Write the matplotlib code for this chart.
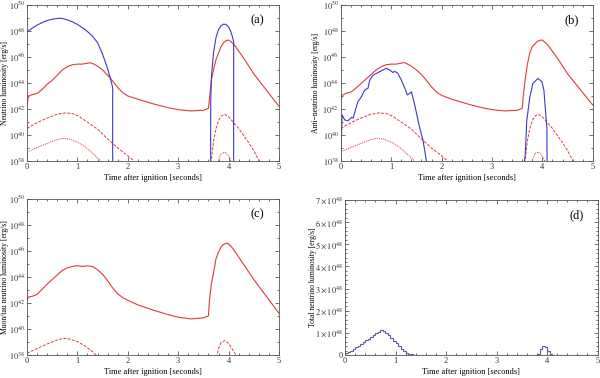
import numpy as np
import matplotlib
matplotlib.use("Agg")
import matplotlib.pyplot as plt
from matplotlib.ticker import FixedLocator, MultipleLocator, NullFormatter

plt.rcParams["font.family"] = ["Liberation Serif", "DejaVu Serif"]
plt.rcParams["mathtext.fontset"] = "stix"

RED = "#e03a3a"
BLUE = "#3a3acc"
HIST = "#5c5c99"

# ── panel (a): neutrino luminosity, log10 erg/s ─────────────
a_blue1_t = [0, 0.1, 0.2, 0.3, 0.4, 0.5, 0.6, 0.65, 0.7, 0.8, 0.9, 1.0, 1.1, 1.2,
             1.3, 1.4, 1.5, 1.6, 1.65, 1.69, 1.70, 1.70]
a_blue1_l = [47.94, 48.2, 48.45, 48.64, 48.8, 48.9, 48.96, 48.97, 48.96, 48.85, 48.7,
             48.5, 48.25, 47.95, 47.6, 47.1, 46.2, 45.1, 44.4, 43.8, 43.6, 30]
a_blue2_t = [3.64, 3.645, 3.66, 3.7, 3.75, 3.8, 3.85, 3.9, 3.95, 4.0, 4.05, 4.1, 4.1]
a_blue2_l = [30, 42.5, 44.5, 46.3, 47.5, 48.1, 48.4, 48.52, 48.5, 48.3, 47.9, 47.2, 30]

red_t = [0, 0.03, 0.1, 0.2, 0.3, 0.4, 0.5, 0.6, 0.7, 0.8, 0.9, 1.0, 1.1, 1.2, 1.25,
         1.3, 1.4, 1.5, 1.6, 1.7, 1.8, 1.9, 2.0, 2.2, 2.5, 2.8, 3.0, 3.25, 3.5, 3.6,
         3.62, 3.66, 3.7, 3.75, 3.8, 3.85, 3.9, 3.95, 4.0, 4.1, 4.3, 4.5, 4.75, 5.0]
a_red_l = [42.3, 43.0, 43.1, 43.2, 43.5, 43.9, 44.2, 44.6, 45.0, 45.25, 45.4, 45.45,
           45.45, 45.52, 45.55, 45.5, 45.3, 45.0, 44.6, 44.15, 43.65, 43.25, 43.0,
           42.75, 42.4, 42.1, 41.95, 41.85, 41.9, 42.05, 42.8, 44.3, 45.0, 45.8,
           46.3, 46.8, 47.1, 47.25, 47.3, 47.0, 45.9, 44.7, 43.45, 42.2]

dash1_t = [0, 0.2, 0.4, 0.6, 0.75, 0.9, 1.0, 1.2, 1.4, 1.6, 1.8, 2.0, 2.15, 2.2]
dash1_l = [40.5, 40.95, 41.3, 41.6, 41.7, 41.65, 41.5, 41.0, 40.45, 39.7, 39.0, 38.4,
           37.9, 37.7]
dash2_t = [3.64, 3.7, 3.75, 3.8, 3.85, 3.92, 4.0, 4.1, 4.2, 4.3, 4.4, 4.5, 4.6, 4.65]
dash2_l = [37.5, 39.5, 40.5, 41.1, 41.45, 41.6, 41.4, 40.95, 40.5, 39.95, 39.4, 38.8,
           38.05, 37.8]
dot1_t = [0, 0.2, 0.4, 0.6, 0.72, 0.85, 1.0, 1.15, 1.3, 1.45, 1.5]
dot1_l = [38.7, 39.05, 39.35, 39.65, 39.75, 39.68, 39.45, 39.1, 38.6, 38.05, 37.8]
dot2_t = [3.78, 3.85, 3.92, 4.0, 4.06]
dot2_l = [37.9, 38.55, 38.7, 38.4, 37.9]

# ── panel (b): anti-neutrino luminosity ─────────────────────
b_red_l = [42.6, 43.05, 43.2, 43.3, 43.6, 43.95, 44.3, 44.65, 45.0, 45.25, 45.4, 45.45,
           45.45, 45.52, 45.58, 45.5, 45.3, 45.0, 44.65, 44.2, 43.7, 43.3, 43.05,
           42.75, 42.4, 42.1, 41.95, 41.85, 41.9, 42.05, 43.0, 44.3, 45.4, 46.3,
           46.8, 47.0, 47.2, 47.28, 47.3, 46.95, 45.9, 44.7, 43.5, 42.3]
b_blue1_t = [0.0, 0.026, 0.08, 0.145, 0.21, 0.245, 0.29, 0.34, 0.41, 0.475, 0.54,
             0.574, 0.64, 0.74, 0.84, 0.90, 0.97, 1.035, 1.07, 1.13, 1.20, 1.27,
             1.32, 1.365, 1.40, 1.46, 1.56, 1.63, 1.70]
b_blue1_l = [38.46, 41.54, 41.15, 41.1, 41.36, 41.3, 41.92, 42.56, 42.95, 43.46, 43.6,
             44.23, 44.6, 44.8, 45.0, 45.13, 45.0, 44.8, 44.9, 44.75, 44.23, 43.6,
             43.08, 43.2, 43.33, 42.43, 40.64, 39.6, 38.0]
b_blue2_t = [3.63, 3.66, 3.69, 3.75, 3.81, 3.91, 3.99, 4.03, 4.06, 4.09, 4.1]
b_blue2_l = [37.5, 38.5, 41.1, 42.9, 43.95, 44.35, 44.1, 43.45, 41.9, 40.5, 30]

# ── panel (c): muon/tau neutrino luminosity ─────────────────
c_red_t = [0, 0.03, 0.1, 0.2, 0.3, 0.4, 0.5, 0.6, 0.7, 0.8, 0.9, 1.0, 1.1, 1.2, 1.3,
           1.4, 1.5, 1.6, 1.7, 1.8, 1.9, 2.0, 2.2, 2.5, 2.8, 3.0, 3.25, 3.5, 3.6,
           3.62, 3.66, 3.7, 3.75, 3.8, 3.85, 3.9, 3.97, 4.05, 4.1, 4.3, 4.5, 4.75, 5.0]
c_red_l = [42.2, 42.45, 42.5, 42.65, 43.05, 43.45, 43.8, 44.15, 44.5, 44.7, 44.8, 44.86,
           44.8, 44.85, 44.8, 44.55, 44.2, 43.7, 43.15, 42.7, 42.4, 42.2, 41.85, 41.45,
           41.1, 40.9, 40.77, 40.85, 41.0, 42.2, 43.5, 44.3, 45.4, 45.9, 46.3, 46.5,
           46.6, 46.35, 46.1, 44.95, 43.8, 42.5, 41.2]
c_dash1_t = [0, 0.2, 0.4, 0.6, 0.72, 0.85, 1.0, 1.15, 1.3, 1.4]
c_dash1_l = [38.13, 38.5, 38.84, 39.15, 39.28, 39.22, 39.02, 38.7, 38.25, 37.9]
c_dash2_t = [3.76, 3.8, 3.85, 3.92, 4.0, 4.08, 4.18]
c_dash2_l = [37.8, 38.5, 38.95, 39.1, 38.9, 38.4, 37.8]

# ── panel (d): total luminosity histogram, 1e48 erg/s, 0.05 s bins ──
d_edges1 = np.arange(0, 1.40001, 0.05)
d_vals1 = [0.08, 0.14, 0.2, 0.27, 0.34, 0.42, 0.5, 0.58, 0.66, 0.74, 0.82, 0.9, 0.98,
           1.05, 1.12, 1.08, 1.0, 0.9, 0.78, 0.65, 0.52, 0.4, 0.28, 0.17, 0.09, 0.04,
           0.02, 0.01]
d_edges2 = np.arange(3.8, 4.15001, 0.05)
d_vals2 = [0.03, 0.25, 0.42, 0.38, 0.18, 0.06, 0.01]

fig = plt.figure(figsize=(6, 3.78), dpi=100)
ax_a = fig.add_axes([0.045, 0.574, 0.42, 0.413])
ax_b = fig.add_axes([0.568, 0.574, 0.42, 0.413])
ax_c = fig.add_axes([0.045, 0.061, 0.42, 0.413])
ax_d = fig.add_axes([0.575, 0.061, 0.421, 0.41])


def lg(v):
    return 10.0 ** np.asarray(v)


def style(ax, ylabel, tag, ylab_x):
    ax.set_xlim(0, 5)
    ax.xaxis.set_major_locator(MultipleLocator(1))
    ax.xaxis.set_minor_locator(MultipleLocator(0.2))
    ax.tick_params(which="both", direction="in", top=True, right=True,
                   labelsize=6, pad=1.5, width=0.5, colors="#333333")
    ax.tick_params(which="major", length=3)
    ax.tick_params(which="minor", length=1.5)
    for s in ax.spines.values():
        s.set_linewidth(0.6)
        s.set_color("#555555")
    ax.set_xlabel("Time after ignition [seconds]", fontsize=6, labelpad=2)
    ax.set_ylabel(ylabel, fontsize=5.5)
    ax.yaxis.set_label_coords(ylab_x, 0.5)
    ax.text(0.915, 0.9, tag, transform=ax.transAxes, fontsize=9,
            ha="center", va="center")


def log_axis(ax):
    ax.set_yscale("log")
    ax.set_ylim(1e38, 1e50)
    majors = [38, 40, 42, 44, 46, 48, 50]
    ax.yaxis.set_major_locator(FixedLocator([10.0 ** m for m in majors]))
    ax.yaxis.set_minor_locator(FixedLocator([10.0 ** m for m in range(39, 50, 2)]))
    ax.yaxis.set_minor_formatter(NullFormatter())
    ax.set_yticklabels([r"$10^{%d}$" % m for m in majors])


# (a)
ax_a.plot(red_t, lg(a_red_l), color=RED, lw=0.8)
ax_a.plot(dash1_t, lg(dash1_l), color=RED, lw=0.7, ls=(0, (3, 1.5)))
ax_a.plot(dash2_t, lg(dash2_l), color=RED, lw=0.7, ls=(0, (3, 1.5)))
ax_a.plot(dot1_t, lg(dot1_l), color=RED, lw=0.7, ls=(0, (1, 1)))
ax_a.plot(dot2_t, lg(dot2_l), color=RED, lw=0.7, ls=(0, (1, 1)))
ax_a.plot(a_blue1_t, lg(a_blue1_l), color=BLUE, lw=0.8)
ax_a.plot(a_blue2_t, lg(a_blue2_l), color=BLUE, lw=0.8)
log_axis(ax_a)
style(ax_a, "Neutrino luminosity [erg/s]", "(a)", -0.07)

# (b)
ax_b.plot(red_t, lg(b_red_l), color=RED, lw=0.8)
ax_b.plot(dash1_t, lg(dash1_l), color=RED, lw=0.7, ls=(0, (3, 1.5)))
ax_b.plot(dash2_t, lg(dash2_l), color=RED, lw=0.7, ls=(0, (3, 1.5)))
ax_b.plot(dot1_t, lg(dot1_l), color=RED, lw=0.7, ls=(0, (1, 1)))
ax_b.plot(dot2_t, lg(dot2_l), color=RED, lw=0.7, ls=(0, (1, 1)))
ax_b.plot(b_blue1_t, lg(b_blue1_l), color=BLUE, lw=0.8)
ax_b.plot(b_blue2_t, lg(b_blue2_l), color=BLUE, lw=0.8)
log_axis(ax_b)
style(ax_b, "Anti\u2212neutrino luminosity [erg/s]", "(b)", -0.083)

# (c)
ax_c.plot(c_red_t, lg(c_red_l), color=RED, lw=0.8)
ax_c.plot(c_dash1_t, lg(c_dash1_l), color=RED, lw=0.7, ls=(0, (3, 1.5)))
ax_c.plot(c_dash2_t, lg(c_dash2_l), color=RED, lw=0.7, ls=(0, (3, 1.5)))
log_axis(ax_c)
style(ax_c, "Muon/tau neutrino luminosity [erg/s]", "(c)", -0.07)

# (d)
ax_d.stairs(np.array(d_vals1) * 1e48, d_edges1, baseline=0, color=HIST, lw=0.8)
ax_d.stairs(np.array(d_vals2) * 1e48, d_edges2, baseline=0, color=HIST, lw=0.8)
ax_d.axhline(0, color=HIST, lw=0.8)
ax_d.set_ylim(0, 7e48)
ax_d.yaxis.set_major_locator(FixedLocator([i * 1e48 for i in range(8)]))
ax_d.yaxis.set_minor_locator(MultipleLocator(0.2e48))
ax_d.yaxis.set_minor_formatter(NullFormatter())
ax_d.set_yticklabels(["0"] + [r"$%d\times10^{48}$" % i for i in range(1, 8)])
style(ax_d, "Total neutrino luminosity [erg/s]", "(d)", -0.112)

fig.savefig("out.png", dpi=100)
